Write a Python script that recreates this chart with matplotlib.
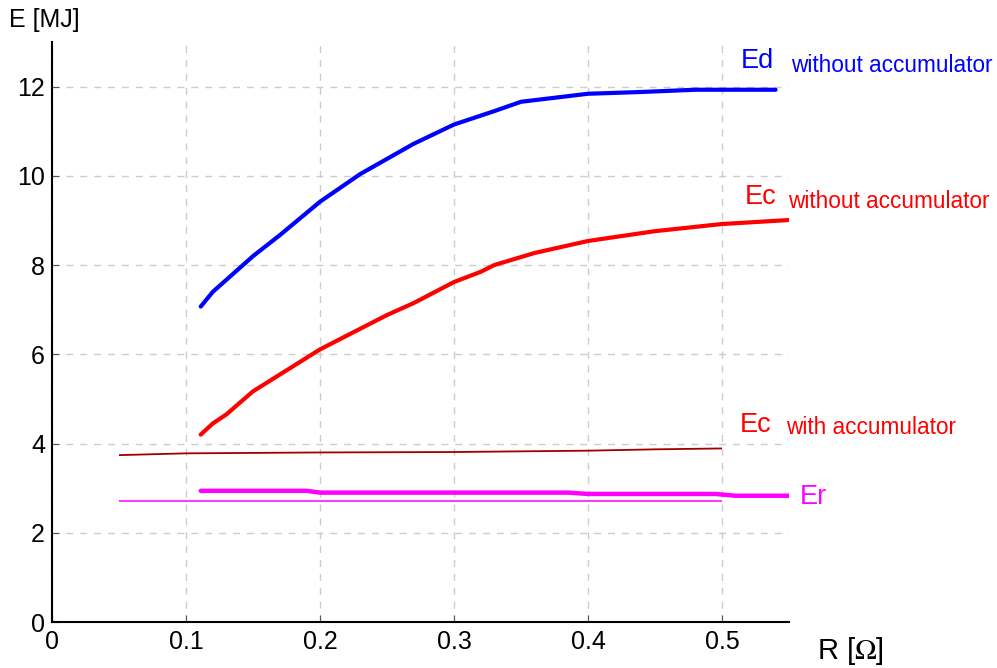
import matplotlib
matplotlib.use('Agg')
from matplotlib import pyplot as plt

# Ed without accumulator
ED_R = [0.111, 0.12, 0.15, 0.17, 0.2, 0.23, 0.25, 0.27, 0.3, 0.33, 0.35, 0.4, 0.44, 0.48, 0.54]
ED_E = [7.07, 7.4, 8.2, 8.67, 9.42, 10.04, 10.38, 10.72, 11.15, 11.45, 11.66, 11.84, 11.88, 11.93, 11.93]

# Ec without accumulator
EC_R = [0.111, 0.12, 0.13, 0.15, 0.2, 0.25, 0.27, 0.3, 0.32, 0.33, 0.36, 0.4, 0.45, 0.5, 0.55]
EC_E = [4.2, 4.45, 4.65, 5.17, 6.11, 6.88, 7.15, 7.62, 7.85, 8.0, 8.27, 8.54, 8.76, 8.92, 9.01]

# Ec with accumulator
ECA_R = [0.05, 0.1, 0.2, 0.3, 0.4, 0.45, 0.5]
ECA_E = [3.74, 3.78, 3.80, 3.81, 3.84, 3.87, 3.89]

# Er (thin / thick)
ER_THIN_R = [0.05, 0.5]
ER_THIN_E = [2.72, 2.72]
ER_R = [0.111, 0.19, 0.2, 0.385, 0.4, 0.495, 0.51, 0.55]
ER_E = [2.94, 2.94, 2.90, 2.90, 2.87, 2.87, 2.83, 2.83]

X_TICKS = [0, 0.1, 0.2, 0.3, 0.4, 0.5]
X_LABELS = ['0', '0.1', '0.2', '0.3', '0.4', '0.5']
Y_TICKS = [0, 2, 4, 6, 8, 10, 12]

plt.rcParams['font.family'] = ['Liberation Sans', 'DejaVu Sans']
plt.rcParams['mathtext.fontset'] = 'stix'

W, H = 997, 668
fig = plt.figure(figsize=(W / 100, H / 100), dpi=100)
ax = fig.add_axes([52 / W, 1 - 622 / H, (789 - 52) / W, (622 - 42) / H])

ax.plot(ECA_R, ECA_E, color='#a00000', lw=1.3, solid_capstyle='butt')
ax.plot(ER_THIN_R, ER_THIN_E, color='#ff00ff', lw=1.1, solid_capstyle='butt')
ax.plot(ER_R, ER_E, color='#ff00ff', lw=3.2, solid_capstyle='round')
ax.plot(EC_R, EC_E, color='#ff0000', lw=3.0, solid_capstyle='round')
ax.plot(ED_R, ED_E, color='#0000ff', lw=3.0, solid_capstyle='round')

ax.set_xlim(0, 0.55)
ax.set_ylim(0, 13)
ax.set_xticks(X_TICKS)
ax.set_xticklabels(X_LABELS)
ax.set_yticks(Y_TICKS)
ax.tick_params(labelsize=18, direction='in', length=5, color='#555555')
ax.tick_params(axis='x', pad=6)
ax.tick_params(axis='y', pad=5)
ax.grid(True, ls=(0, (5, 5)), color='#cccccc', lw=1)
ax.set_axisbelow(True)
for side in ('top', 'right'):
    ax.spines[side].set_visible(False)
for side in ('left', 'bottom'):
    ax.spines[side].set_linewidth(1.5)


def ftext(x, y, s, **kw):
    fig.text(x / W, 1 - y / H, s, va='center', ha='left', **kw)


ftext(9, 20, 'E [MJ]', fontsize=18)
ftext(817, 651, 'R [$\\Omega$]', fontsize=21)

ftext(741, 61, 'Ed', fontsize=19.5, color='#0000ff')
ftext(791, 66, 'without accumulator', fontsize=16.3, color='#0000ff')
ftext(745, 197, 'Ec', fontsize=19.5, color='#ff0000')
ftext(788, 201, 'without accumulator', fontsize=16.3, color='#ff0000')
ftext(740, 425, 'Ec', fontsize=19.5, color='#ff0000')
ftext(786, 427, 'with accumulator', fontsize=16.3, color='#ff0000')
ftext(800, 497, 'Er', fontsize=19.5, color='#ff00ff')

fig.savefig('out.png', dpi=100)
plt.close(fig)
